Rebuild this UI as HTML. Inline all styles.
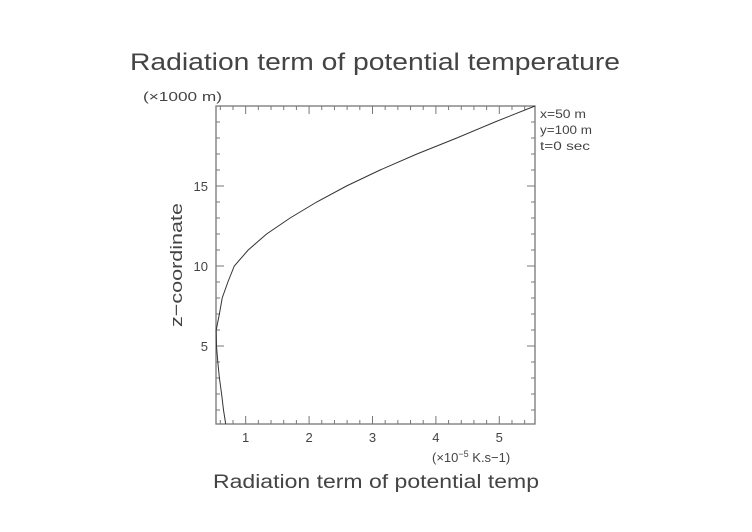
<!DOCTYPE html>
<html><head><meta charset="utf-8"><style>
html,body{margin:0;padding:0;background:#fff;}
svg{display:block;font-family:"Liberation Sans","DejaVu Sans",sans-serif;}
text{fill:#444;}
</style></head><body>
<svg id="chart" width="752" height="532" viewBox="0 0 752 532" xmlns="http://www.w3.org/2000/svg">
<text x="130" y="70" font-size="24" textLength="490" lengthAdjust="spacingAndGlyphs">Radiation term of potential temperature</text>
<text x="143" y="101" font-size="13" textLength="79" lengthAdjust="spacingAndGlyphs">(×1000 m)</text>
<text transform="translate(182,265) rotate(-90)" text-anchor="middle" font-size="17" textLength="124" lengthAdjust="spacingAndGlyphs">z−coordinate</text>
<text x="213" y="488" font-size="19" textLength="326" lengthAdjust="spacingAndGlyphs">Radiation term of potential temp</text>
<text x="432" y="462" font-size="13">(×10<tspan dy="-5" font-size="9">−5</tspan><tspan dy="5"> K.s−1)</tspan></text>
<g font-size="12" fill="#666">
<text x="540" y="118" textLength="46" lengthAdjust="spacingAndGlyphs">x=50 m</text>
<text x="540" y="134" textLength="52" lengthAdjust="spacingAndGlyphs">y=100 m</text>
<text x="540" y="150" textLength="50" lengthAdjust="spacingAndGlyphs">t=0 sec</text>
</g>
<g id="axes"></g>
<path id="curve" fill="none" stroke="#333" stroke-width="1"/>
</svg>
<script>
const zValues = [0.125, 1, 2, 3, 4, 5, 6, 7, 8, 9, 10, 11, 12, 13, 14, 15, 16, 17, 18, 19, 20];
const radValues = [0.685, 0.65, 0.62, 0.585, 0.56, 0.54, 0.535, 0.585, 0.63, 0.72, 0.82, 1.04, 1.33, 1.70, 2.12, 2.59, 3.12, 3.70, 4.33, 4.93, 5.563];
const xTickLabels = [1, 2, 3, 4, 5];
const yTickLabels = [5, 10, 15];
const xMin = 0.532, xMax = 5.563, yMin = 0.125, yMax = 20;
const L = 216, R = 535, T = 106, B = 424;
const sx = v => L + (v - xMin) / (xMax - xMin) * (R - L);
const sy = v => B - (v - yMin) / (yMax - yMin) * (B - T);
const NS = "http://www.w3.org/2000/svg";
const axes = document.getElementById('axes');
function mk(tag, attrs) { const e = document.createElementNS(NS, tag); for (const k in attrs) e.setAttribute(k, attrs[k]); axes.appendChild(e); return e; }
const frame = mk('rect', { x: L, y: T, width: R - L, height: B - T, fill: 'none', stroke: '#777', 'stroke-width': 1.3 });


// minor x ticks
for (let i = Math.ceil(xMin / 0.2); i * 0.2 <= xMax; i++) {
  const v = i * 0.2; const x = sx(v); const major = Math.abs(v - Math.round(v)) < 1e-6;
  const len = major ? 8 : 4;
  const t1 = mk('line', { x1: x, y1: B, x2: x, y2: B - len, stroke: '#777' });
  
  
  const t2 = mk('line', { x1: x, y1: T, x2: x, y2: T + len, stroke: '#777' });
  
  
}
for (let v = 1; v <= 19; v++) {
  const y = sy(v); const major = v % 5 === 0; const len = major ? 8 : 4;
  const t1 = mk('line', { x1: L, y1: y, x2: L + len, y2: y, stroke: '#777' });
  
  
  const t2 = mk('line', { x1: R, y1: y, x2: R - len, y2: y, stroke: '#777' });
  
  
}
xTickLabels.forEach(v => {
  const t = mk('text', { x: sx(v), y: B + 18, 'text-anchor': 'middle', 'font-size': 13 });
  t.textContent = v;
  
  
});
yTickLabels.forEach(v => {
  const t = mk('text', { x: L - 8, y: sy(v) + 5, 'text-anchor': 'end', 'font-size': 13 });
  t.textContent = v;
  
  
});
document.getElementById('curve').setAttribute('d', zValues.map((z, i) => (i ? 'L' : 'M') + sx(radValues[i]).toFixed(1) + ',' + sy(z).toFixed(1)).join(''));
</script>
</body></html>
